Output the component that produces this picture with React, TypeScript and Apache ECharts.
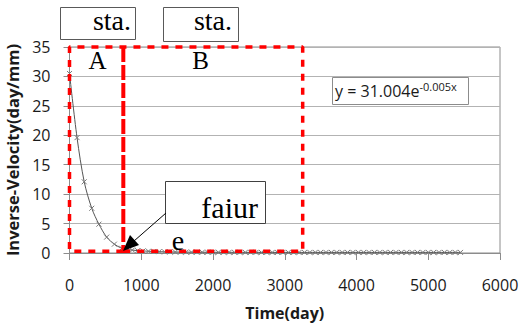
import React, { useEffect, useRef } from "react";
import * as echarts from "echarts";

// Measured data (day, inverse velocity in day/mm)
const days: number[] = [
  0, 105, 205, 310, 410, 518, 625, 728,
  800, 875, 950, 1025, 1100, 1175, 1250, 1325, 1400, 1475, 1550, 1625, 1700, 1775,
  1850, 1925, 2000, 2075, 2150, 2225, 2300, 2375, 2450, 2525, 2600, 2675, 2750,
  2825, 2900, 2975, 3050, 3125, 3200, 3275, 3350, 3425, 3500, 3575, 3650, 3725,
  3800, 3875, 3950, 4025, 4100, 4175, 4250, 4325, 4400, 4475, 4550, 4625, 4700,
  4775, 4850, 4925, 5000, 5075, 5150, 5225, 5300, 5375, 5450,
];
const invVelocity: number[] = [
  30.5, 19.6, 12.1, 7.6, 4.9, 2.7, 1.5, 0.8,
  0.6, 0.5, 0.4, 0.35, 0.3, 0.26, 0.23, 0.2, 0.18, 0.17, 0.16, 0.15, 0.14, 0.14,
  0.13, 0.13, 0.12, 0.12, 0.12, 0.12, 0.11, 0.11, 0.11, 0.11, 0.11, 0.1, 0.1,
  0.1, 0.1, 0.1, 0.1, 0.1, 0.1, 0.1, 0.1, 0.1, 0.1, 0.1, 0.1, 0.1,
  0.1, 0.1, 0.1, 0.1, 0.1, 0.1, 0.1, 0.1, 0.1, 0.1, 0.1, 0.1, 0.1,
  0.1, 0.1, 0.1, 0.1, 0.1, 0.1, 0.1, 0.1, 0.1, 0.1,
];

// Stage regions (days) and their vertical span (day/mm)
const stageA: number[] = [0, 750];
const stageB: number[] = [750, 3250];
const stageY: number[] = [0.3, 35];

const xTicks = { min: 0, max: 6000, interval: 1000 };
const yTicks = { min: 0, max: 35, interval: 5 };

const equationMain = "y = 31.004e";
const equationExp = "-0.005x";

const SERIF = '"Liberation Serif", "Times New Roman", serif';
const SANS = '"Open Sans", "Noto Sans", sans-serif';

export default function App() {
  const ref = useRef<HTMLDivElement>(null);

  useEffect(() => {
    if (!ref.current) return;
    const chart = echarts.init(ref.current, null, { renderer: "svg" });

    const points = days.map((d, i) => [d, invVelocity[i]]);
    const outline = [
      [stageA[1], stageY[0]],
      [stageA[0], stageY[0]],
      [stageA[0], stageY[1]],
      [stageB[1], stageY[1]],
      [stageB[1], stageY[0]],
      [stageB[0], stageY[0]],
    ];
    const divider = [
      [stageB[0], stageY[1]],
      [stageB[0], stageY[0]],
    ];

    const box = (x: number, y: number, w: number, h: number, stroke: string) => ({
      type: "rect",
      z: 100,
      shape: { x, y, width: w, height: h },
      style: { fill: "#fff", stroke, lineWidth: 1 },
    });
    const label = (text: string, x: number, y: number, size: number, align: string) => ({
      type: "text",
      z: 101,
      x,
      y,
      style: {
        text,
        fill: "#000",
        font: `${size}px ${SERIF}`,
        textAlign: align,
        textVerticalAlign: "middle",
      },
    });

    chart.setOption({
      animation: false,
      backgroundColor: "#fff",
      grid: {
        left: 69.5,
        right: 28,
        top: 47,
        bottom: 74,
        show: true,
        borderColor: "#8c8c8c",
        borderWidth: 1,
        outerBoundsMode: "none",
      },
      xAxis: {
        type: "value",
        min: xTicks.min,
        max: xTicks.max,
        interval: xTicks.interval,
        name: "Time(day)",
        nameLocation: "middle",
        nameGap: 52,
        nameTextStyle: { fontFamily: SANS, fontSize: 16, fontWeight: "bold", color: "#1a1a1a" },
        axisLine: { show: true, lineStyle: { color: "#8c8c8c", width: 1 } },
        axisTick: { show: true, length: 7, lineStyle: { color: "#8c8c8c" } },
        axisLabel: {
          margin: 24,
          fontFamily: SANS,
          fontSize: 16,
          color: "#1a1a1a",
          formatter: (v: number) => String(v),
        },
        splitLine: { show: false },
      },
      yAxis: {
        type: "value",
        min: yTicks.min,
        max: yTicks.max,
        interval: yTicks.interval,
        name: "Inverse-Velocity(day/mm)",
        nameLocation: "middle",
        nameGap: 46,
        nameTextStyle: { fontFamily: SANS, fontSize: 16.5, fontWeight: "bold", color: "#1a1a1a" },
        axisLine: { show: true, lineStyle: { color: "#8c8c8c", width: 1 } },
        axisTick: { show: true, length: 6, lineStyle: { color: "#8c8c8c" } },
        axisLabel: {
          margin: 19,
          fontFamily: SANS,
          fontSize: 16,
          color: "#1a1a1a",
          formatter: (v: number) => String(v),
        },
        splitLine: { show: true, lineStyle: { color: "#b3b3b3", width: 1 } },
      },
      series: [
        {
          type: "line",
          data: points,
          smooth: 0.3,
          symbol: "path://M0,0L10,10M10,0L0,10",
          symbolSize: 5,
          showSymbol: true,
          lineStyle: { color: "#555", width: 1 },
          itemStyle: { color: "none", borderColor: "#7a7a7a", borderWidth: 1 },
          z: 3,
        },
        {
          type: "line",
          data: outline,
          symbol: "none",
          clip: false,
          lineStyle: { color: "#ff0000", width: 3.5, type: [7, 7] },
          z: 4,
        },
        {
          type: "line",
          data: divider,
          symbol: "none",
          clip: false,
          lineStyle: { color: "#ff0000", width: 4, type: [15, 3] },
          z: 4,
        },
      ],
      graphic: [
        box(60.5, 7.5, 75, 32, "#595959"),
        label("sta.", 131, 20, 28, "right"),
        box(163.5, 7.5, 75, 34, "#595959"),
        label("sta.", 232, 20, 28, "right"),
        label("A", 97.5, 60, 25, "center"),
        label("B", 200.5, 60, 25, "center"),
        box(332.5, 77.5, 136, 27, "#8c8c8c"),
        {
          type: "text",
          z: 101,
          x: 335,
          y: 91,
          style: {
            text: `{a|${equationMain}}{b|${equationExp}}`,
            textAlign: "left",
            textVerticalAlign: "middle",
            rich: {
              a: { fontFamily: SANS, fontSize: 16, fill: "#1a1a1a", lineHeight: 20 },
              b: { fontFamily: SANS, fontSize: 11, fill: "#1a1a1a", padding: [0, 0, 9, 0] },
            },
          },
        },
        box(165.5, 181.5, 100, 42, "#404040"),
        label("faiur", 258, 207, 30, "right"),
        label("e", 178, 240, 28, "center"),
        {
          type: "line",
          z: 102,
          shape: { x1: 166, y1: 213, x2: 134, y2: 241 },
          style: { stroke: "#000", lineWidth: 1 },
        },
        {
          type: "polygon",
          z: 102,
          shape: { points: [[123, 251], [139, 245], [130, 235]] },
          style: { fill: "#000" },
        },
      ],
    });

    return () => chart.dispose();
  }, []);

  return (
    <div
      ref={ref}
      style={{ position: "fixed", left: 0, top: 0, width: 528, height: 327 }}
    />
  );
}
